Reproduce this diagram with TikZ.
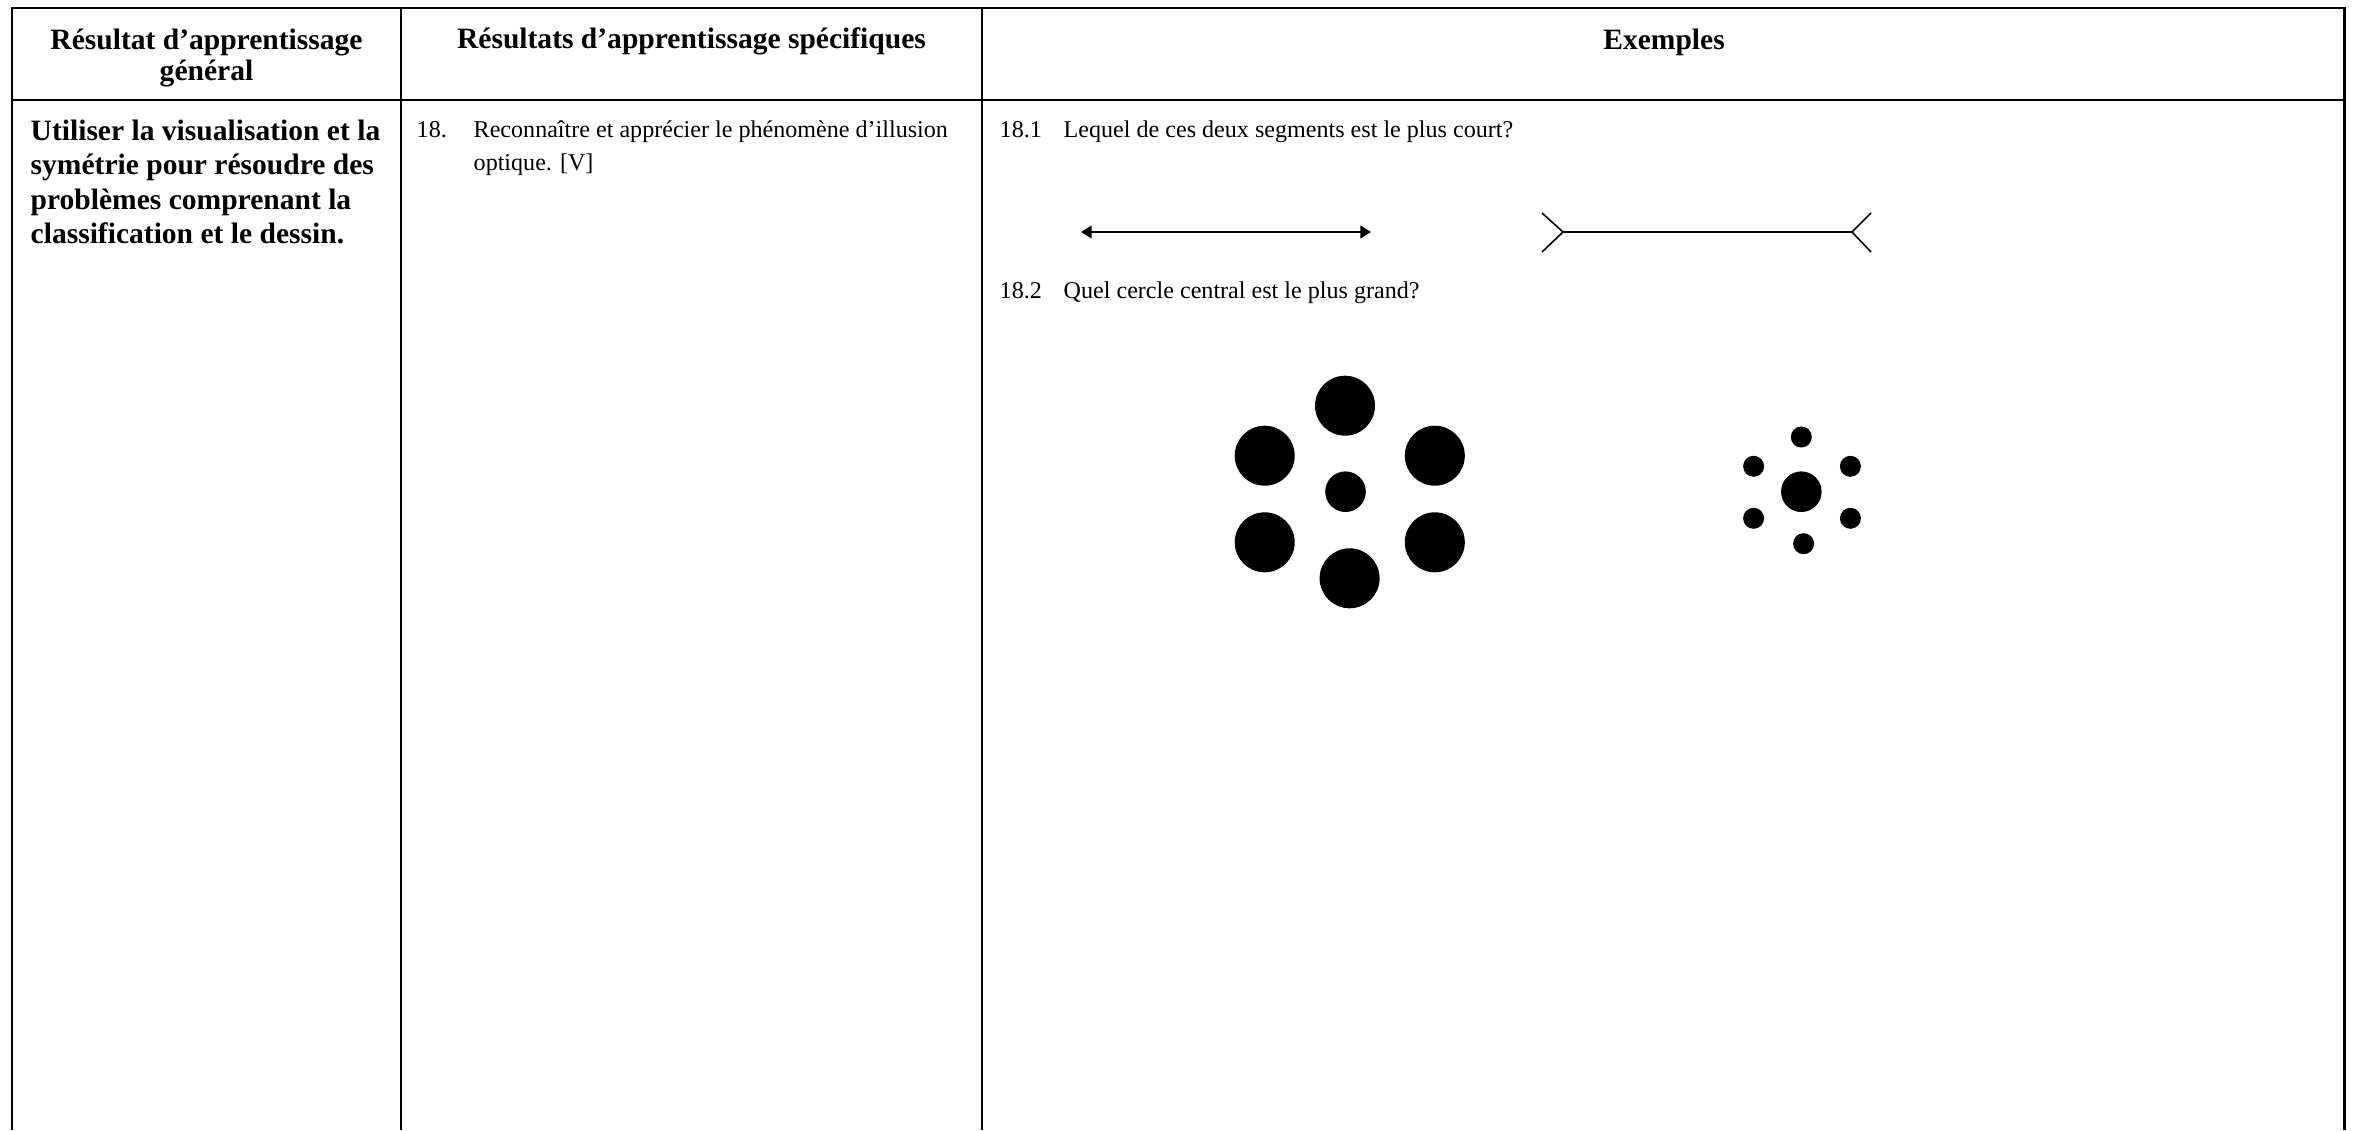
\documentclass[tikz,border=0pt]{standalone}
\usepackage{fontspec}
\setmainfont{Liberation Serif}
\usetikzlibrary{arrows.meta}
\begin{document}
\begin{tikzpicture}[x=0.01cm,y=-0.01cm,
  border/.style={line width=0.85pt},
  sepline/.style={line width=0.55pt},
  headtxt/.style={font=\fontsize{8.4}{9}\selectfont\bfseries, align=center, inner sep=0pt},
  gentxt/.style={font=\fontsize{8.4}{9.4}\selectfont\bfseries, anchor=base west, inner sep=0pt},
  bodytxt/.style={font=\fontsize{6.85}{8}\selectfont, anchor=base west, inner sep=0pt},
  dot/.style={fill=black},
  twoheads/.style={{Triangle[length=3pt,width=3.6pt]}-{Triangle[length=3pt,width=3.6pt]}}]
\useasboundingbox (0,0) rectangle (2355,1130);
% table frame
\draw[border] (12,1130) -- (12,8) -- (2344,8) -- (2344,1130);
\draw[border] (12,100) -- (2344,100);
\draw[sepline] (401,8) -- (401,1130);
\draw[line width=0.4pt] (982,8) -- (982,1130);
% headings
\node[headtxt] (h1) at (206.5,58) {Résultat d’apprentissage\\général};
\node[headtxt, anchor=base] (h2) at (691.5,48) {Résultats d’apprentissage spécifiques};
\node[headtxt, anchor=base] (h3) at (1664,49) {Exemples};
% general outcome
\node[gentxt] (g1) at (30,140) {Utiliser la visualisation et la};
\node[gentxt] (g2) at (30,174.5) {symétrie pour résoudre des};
\node[gentxt] (g3) at (30,209) {problèmes comprenant la};
\node[gentxt] (g4) at (30,243.5) {classification et le dessin.};
% specific outcome
\node[bodytxt] (n18) at (416,137) {18.};
\node[bodytxt] (s1) at (473,137) {Reconnaître et apprécier le phénomène d’illusion};
\node[bodytxt] (s2) at (473,170) {optique. [V]};
% examples
\node[bodytxt] (n181) at (999,137) {18.1};
\node[bodytxt] (q1) at (1063,137) {Lequel de ces deux segments est le plus court?};
\node[bodytxt] (n182) at (999,298) {18.2};
\node[bodytxt] (q2) at (1063,298) {Quel cercle central est le plus grand?};
% Mueller-Lyer figures
\coordinate (a1) at (1081,232);
\coordinate (a2) at (1371,232);
\draw[line width=0.6pt, twoheads] (a1) -- (a2);
\coordinate (b1) at (1563,232);
\coordinate (b2) at (1852,232);
\draw[line width=0.5pt] (b1) -- (b2);
\draw[line width=0.45pt] (1542,213) -- (b1) -- (1542,252);
\draw[line width=0.45pt] (1871,213) -- (b2) -- (1871,252);
% Ebbinghaus figures
\fill[dot] (1345,405.7) circle (30);
\fill[dot] (1264.7,455.7) circle (30);
\fill[dot] (1434.8,455.7) circle (30);
\fill[dot] (1264.7,542.3) circle (30);
\fill[dot] (1434.8,542.3) circle (30);
\fill[dot] (1349.6,578.3) circle (30);
\fill[dot] (1345.5,491.7) circle (20.3);
\fill[dot] (1801.3,491.7) circle (20.3);
\fill[dot] (1801.3,437) circle (10.5);
\fill[dot] (1753.6,466.3) circle (10.5);
\fill[dot] (1850.4,466.3) circle (10.5);
\fill[dot] (1753.6,518.3) circle (10.5);
\fill[dot] (1850.4,518.3) circle (10.5);
\fill[dot] (1803.6,543.7) circle (10.5);
\end{tikzpicture}
\end{document}
